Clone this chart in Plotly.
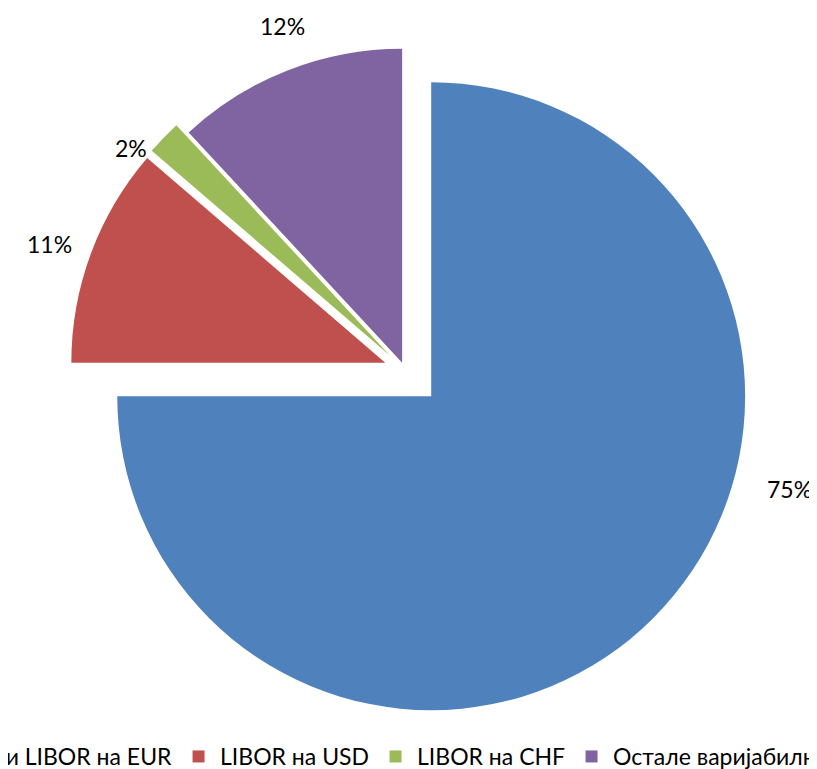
import plotly.graph_objects as go

# ---- data ----
labels = ["EURIBOR и LIBOR на EUR", "LIBOR на USD", "LIBOR на CHF", "Остале варијабилне каматне стопе"]
values = [75.0, 11.3, 1.8, 11.9]

# ---- styles ----
colors = ["#4F81BD", "#C0504D", "#9BBB59", "#8064A2"]
pulls = [0.118, 0.067, 0.067, 0.025]
FONT = "Lato, 'Noto Sans', sans-serif"

OFF = 8          # page body margin of the browser
W, H = 1200, 761
MB = 40
PH = H - MB      # plot-area height


def px(x):
    return (x - OFF) / W


def py(y):
    return (PH - (y - OFF)) / PH


# label centres (in screen pixels of the 817x769 view)
label_pos = [(790, 489), (49, 244), (131, 148), (282, 26)]

fig = go.Figure(go.Pie(
    labels=labels,
    values=values,
    sort=False,
    direction="clockwise",
    rotation=0,
    pull=pulls,
    marker=dict(colors=colors, line=dict(width=0)),
    textinfo="none",
    hoverinfo="label+percent",
    domain=dict(x=[px(54), px(756)], y=[py(721), py(19)]),
))

for v, (x, y) in zip(values, label_pos):
    fig.add_annotation(x=px(x), y=py(y), xref="paper", yref="paper",
                       xanchor="center", yanchor="middle",
                       text=f"{round(v)}%", showarrow=False,
                       font=dict(family=FONT, size=23, color="#000000"))

fig.update_layout(
    width=W, height=H,
    margin=dict(l=0, r=0, t=0, b=MB, autoexpand=False),
    paper_bgcolor="white", plot_bgcolor="white",
    showlegend=True,
    legend=dict(orientation="h", x=-150 / W, xanchor="left",
                y=-6 / PH, yanchor="top", itemwidth=33,
                font=dict(family=FONT, size=23, color="#000000"),
                bgcolor="rgba(0,0,0,0)"),
)

fig.write_html("out.html")
